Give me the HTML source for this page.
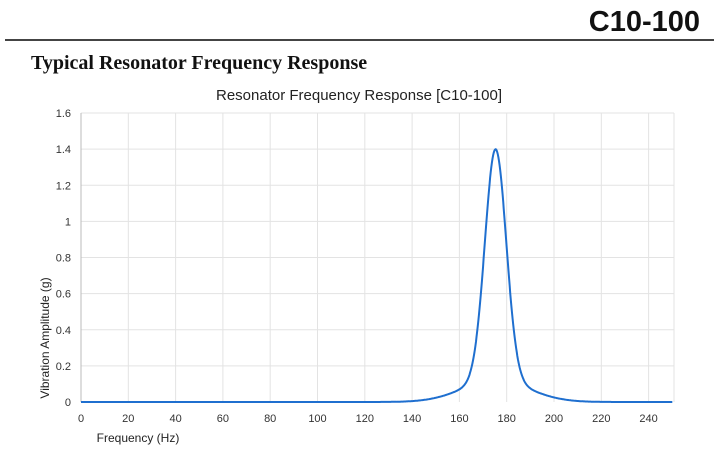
<!DOCTYPE html>
<html><head><meta charset="utf-8"><style>
body{margin:0;background:#fff;width:726px;height:457px;overflow:hidden}
</style></head><body>
<svg width="726" height="457" xmlns="http://www.w3.org/2000/svg">
<text x="700" y="31" text-anchor="end" font-family="Liberation Sans, sans-serif" font-weight="bold" font-size="29" fill="#111">C10-100</text>
<rect x="5" y="39" width="709" height="2" fill="#444"/>
<text x="31" y="69" font-family="Liberation Serif, serif" font-weight="bold" font-size="20" fill="#111">Typical Resonator Frequency Response</text>
<text x="359" y="100" text-anchor="middle" font-family="Liberation Sans, sans-serif" font-size="15" fill="#222">Resonator Frequency Response [C10-100]</text>
<g id="grid" stroke="#e3e3e3" stroke-width="1"></g>
<line x1="81" y1="113" x2="81" y2="402" stroke="#bbb"/>
<g id="lbl" font-family="Liberation Sans, sans-serif" font-size="11" fill="#333"></g>
<text x="138" y="442" text-anchor="middle" font-family="Liberation Sans, sans-serif" font-size="12" fill="#222">Frequency (Hz)</text>
<text transform="translate(49,338) rotate(-90)" text-anchor="middle" font-family="Liberation Sans, sans-serif" font-size="12" fill="#222">Vibration Amplitude (g)</text>
<path id="curve" fill="none" stroke="#1f6fcf" stroke-width="2"/>
</svg>
<script>
var X=function(f){return 81+f*2.365},Y=function(v){return 402-v*180.6};
var g=document.getElementById('grid'),l=document.getElementById('lbl'),ns='http://www.w3.org/2000/svg';
function el(p,t,a,txt){var e=document.createElementNS(ns,t);for(var k in a)e.setAttribute(k,a[k]);if(txt!==undefined)e.textContent=txt;p.appendChild(e);}
for(var f=20;f<=240;f+=20)el(g,'line',{x1:X(f),y1:113,x2:X(f),y2:402});
el(g,'line',{x1:674,y1:113,x2:674,y2:402});
for(var i=1;i<=8;i++){var v=i*0.2;el(g,'line',{x1:81,y1:Y(v),x2:674,y2:Y(v)});}
for(var f=0;f<=240;f+=20)el(l,'text',{x:X(f),y:422,'text-anchor':'middle'},String(f));
var labs=['0','0.2','0.4','0.6','0.8','1','1.2','1.4','1.6'];
for(var i=0;i<=8;i++)el(l,'text',{x:71,y:Y(i*0.2)+4,'text-anchor':'end'},labs[i]);
var d='';for(var f=0;f<=250;f+=0.25){var x=f-175.3;var v=1.28*Math.exp(-x*x/(2*4.5*4.5))+0.12*Math.exp(-x*x/(2*14*14));d+=(f?'L':'M')+X(f).toFixed(1)+' '+Y(v).toFixed(1);}
document.getElementById('curve').setAttribute('d',d);
</script>
</body></html>
